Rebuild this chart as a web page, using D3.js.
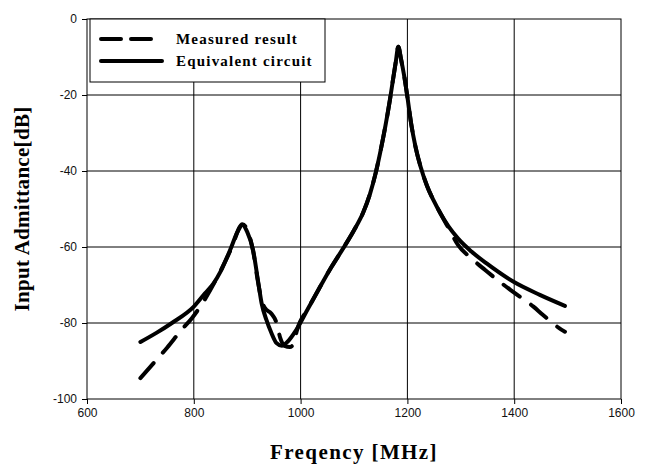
<!DOCTYPE html>
<html>
<head>
<meta charset="utf-8">
<script src="https://cdn.jsdelivr.net/npm/d3@7.9.0/dist/d3.min.js"></script>
<style>
  body { margin: 0; background: #fff; }
  .tick text { font-family: "Liberation Sans", Arial, sans-serif; font-size: 12px; fill: #111; }
  .axis-title { font-family: "Liberation Serif", "Times New Roman", serif; font-weight: bold; font-size: 21px; fill: #000; }
  .legend-text { font-family: "Liberation Serif", "Times New Roman", serif; font-weight: bold; font-size: 15px; fill: #000; }
</style>
</head>
<body>
<div id="chart"></div>
<script>
// axis ticks
const xTicks = [600, 800, 1000, 1200, 1400, 1600];
const yTicks = [0, -20, -40, -60, -80, -100];

// Measured result (dashed)
const measuredFreq = [700, 730, 750, 777, 796, 818, 840, 870, 891, 911, 920, 927, 933, 945, 955, 962, 970, 980, 987, 993, 1014, 1036, 1058, 1080, 1100, 1117, 1130, 1141, 1150, 1159, 1167, 1173, 1178, 1183, 1188, 1194, 1200, 1207, 1215, 1225, 1237, 1250, 1262, 1277, 1295, 1320, 1345, 1377, 1398, 1436, 1454, 1489, 1495];
const measuredDb = [-94.5, -89.7, -86.5, -81.8, -78.8, -74.4, -69, -60.5, -54, -61, -69, -74, -76, -77.5, -80, -84, -86, -86.3, -85.5, -82, -76.2, -70.6, -65.2, -60.3, -55.6, -51, -46, -40.3, -34.5, -28, -21.5, -16, -11.5, -7.3, -10.5, -15, -20.5, -27.5, -33.5, -39, -44, -48, -51.2, -55, -59.5, -63, -66, -69.6, -71.8, -75.7, -77.9, -81.8, -82.3];

// Equivalent circuit (solid)
const circuitFreq = [700, 730, 759, 800, 821, 837, 850, 868, 882, 891, 900, 911, 921, 927, 936, 945, 955, 965, 975, 992, 1014, 1036, 1058, 1080, 1100, 1117, 1130, 1141, 1150, 1159, 1167, 1173, 1178, 1183, 1188, 1194, 1200, 1207, 1215, 1225, 1237, 1250, 1262, 1277, 1295, 1320, 1349, 1398, 1448, 1495];
const circuitDb = [-85, -82.6, -80, -75.7, -72.2, -69.6, -66.5, -60.8, -56, -54.2, -56, -60.8, -69.6, -74.8, -79.2, -82.5, -85.3, -86, -85, -81.8, -76.2, -70.6, -65.2, -60.3, -55.6, -51, -46, -40.3, -34.5, -28, -21.5, -16, -11.5, -7.3, -10.5, -15, -20.5, -27.5, -33.5, -39, -44, -48, -51.2, -54.6, -57.8, -61.2, -64.4, -69.1, -72.6, -75.5];

const legendLabels = ["Measured result", "Equivalent circuit"];

const width = 652, height = 467;
const margin = { top: 19, right: 31, bottom: 68, left: 87 };
const plotW = width - margin.left - margin.right;
const plotH = height - margin.top - margin.bottom;

const svg = d3.select("#chart").append("svg")
    .attr("width", width)
    .attr("height", height);

const g = svg.append("g")
    .attr("transform", `translate(${margin.left},${margin.top})`);

const x = d3.scaleLinear().domain([600, 1600]).range([0, plotW]);
const y = d3.scaleLinear().domain([-100, 0]).range([plotH, 0]);

// grid lines
g.append("g")
    .selectAll("line")
    .data(xTicks.slice(1, -1))
    .enter().append("line")
    .attr("x1", d => x(d)).attr("x2", d => x(d))
    .attr("y1", 0).attr("y2", plotH)
    .attr("stroke", "#000").attr("stroke-width", 1);

g.append("g")
    .selectAll("line")
    .data(yTicks.slice(1, -1))
    .enter().append("line")
    .attr("x1", 0).attr("x2", plotW)
    .attr("y1", d => y(d)).attr("y2", d => y(d))
    .attr("stroke", "#000").attr("stroke-width", 1);

// frame
g.append("rect")
    .attr("width", plotW).attr("height", plotH)
    .attr("fill", "none").attr("stroke", "#000").attr("stroke-width", 1);

// axes (plain hyphen minus, no thousands separator)
const fmt = d => String(d);
const xAxis = g.append("g")
    .attr("transform", `translate(0,${plotH})`)
    .call(d3.axisBottom(x).tickValues(xTicks).tickSize(5).tickPadding(4).tickFormat(fmt));
const yAxis = g.append("g")
    .call(d3.axisLeft(y).tickValues(yTicks).tickSize(5).tickPadding(5).tickFormat(fmt));
[xAxis, yAxis].forEach(a => {
    a.select(".domain").remove();
    a.selectAll(".tick line").attr("stroke", "#000");
});

// curves
const line = d3.line()
    .x(d => x(d[0]))
    .y(d => y(d[1]))
    .curve(d3.curveMonotoneX);

const measured = measuredFreq.map((f, i) => [f, measuredDb[i]]);
const circuit = circuitFreq.map((f, i) => [f, circuitDb[i]]);

g.append("path")
    .datum(measured)
    .attr("d", line)
    .attr("fill", "none")
    .attr("stroke", "#000")
    .attr("stroke-width", 4)
    .attr("stroke-linecap", "round")
    .attr("stroke-dasharray", "20,14");

g.append("path")
    .datum(circuit)
    .attr("d", line)
    .attr("fill", "none")
    .attr("stroke", "#000")
    .attr("stroke-width", 4)
    .attr("stroke-linecap", "round")
    .attr("stroke-linejoin", "round");

// legend
const legend = svg.append("g").attr("transform", "translate(90,19)");
legend.append("rect")
    .attr("width", 235).attr("height", 63)
    .attr("fill", "#fff").attr("stroke", "#000").attr("stroke-width", 1);
legend.append("line")
    .attr("x1", 11).attr("x2", 63).attr("y1", 20).attr("y2", 20)
    .attr("stroke", "#000").attr("stroke-width", 4)
    .attr("stroke-linecap", "round")
    .attr("stroke-dasharray", "20,10");
legend.append("line")
    .attr("x1", 11).attr("x2", 72).attr("y1", 42).attr("y2", 42)
    .attr("stroke", "#000").attr("stroke-width", 4)
    .attr("stroke-linecap", "round");
legend.selectAll("text")
    .data(legendLabels)
    .enter().append("text")
    .attr("class", "legend-text")
    .attr("x", 86)
    .attr("y", (d, i) => 25 + i * 22)
    .style("letter-spacing", "1.2px")
    .text(d => d);

// axis titles
svg.append("text")
    .attr("class", "axis-title")
    .attr("x", margin.left + plotW / 2)
    .attr("y", 459)
    .attr("text-anchor", "middle")
    .style("letter-spacing", "1.4px")
    .text("Freqency [MHz]");

svg.append("text")
    .attr("class", "axis-title")
    .attr("transform", `translate(29,${margin.top + plotH / 2}) rotate(-90)`)
    .attr("text-anchor", "middle")
    .style("letter-spacing", "0.3px")
    .text("Input Admittance[dB]");
</script>
</body>
</html>
